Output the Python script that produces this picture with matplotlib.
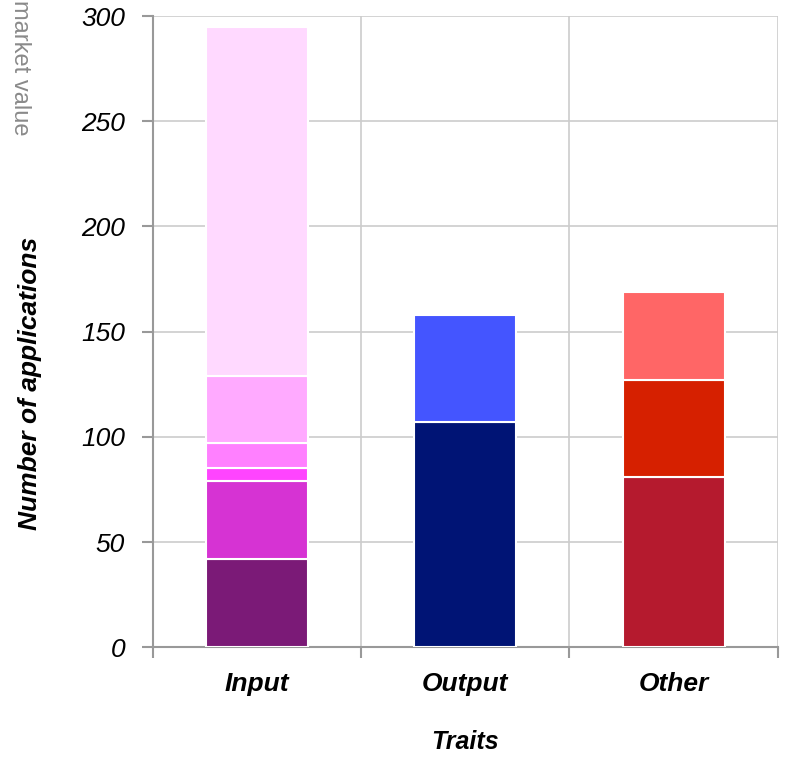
import matplotlib.pyplot as plt
import numpy as np

plt.rcParams['font.family'] = ['Liberation Sans', 'DejaVu Sans']

# Trait categories and their stacked segment sizes (bottom to top)
traits = ['Input', 'Output', 'Other']
input_parts = [42, 37, 6, 12, 32, 166]
output_parts = [107, 51]
other_parts = [81, 46, 42]

input_colors = ['#7b1a77', '#d633d3', '#ff44ff', '#ff80ff', '#ffaaff', '#ffd9ff']
output_colors = ['#001475', '#4455ff']
other_colors = ['#b51a2e', '#d62000', '#ff6666']

fig = plt.figure(figsize=(7.88, 7.65), dpi=100)
ax = fig.add_axes([0.194, 0.154, 0.793, 0.825])

x = np.arange(len(traits))
for xi, parts, colors in zip(x, [input_parts, output_parts, other_parts],
                             [input_colors, output_colors, other_colors]):
    bottom = 0
    for val, col in zip(parts, colors):
        ax.bar(xi, val, bottom=bottom, width=0.49, color=col,
               edgecolor='white', linewidth=1.5, zorder=3)
        bottom += val

ax.set_xlim(-0.5, 2.5)
ax.set_ylim(0, 300)
ax.set_yticks(np.arange(0, 301, 50))
ax.set_yticklabels([str(v) for v in range(0, 301, 50)],
                   fontsize=19, fontstyle='italic')

# gridlines between categories, labels in the middle
ax.set_xticks([-0.5, 0.5, 1.5, 2.5])
ax.set_xticklabels([])
ax.set_xticks(x, minor=True)
ax.set_xticklabels(traits, minor=True, fontsize=19, fontweight='bold',
                   fontstyle='italic')
ax.tick_params(axis='x', which='minor', length=0, pad=18)
ax.tick_params(axis='x', which='major', length=8, color='#999999', width=1.5)
ax.tick_params(axis='y', length=8, color='#999999', width=1.5, pad=12)

ax.grid(True, which='major', color='#cccccc', linewidth=1.2, zorder=0)
for side in ['top', 'right']:
    ax.spines[side].set_visible(False)
for side in ['left', 'bottom']:
    ax.spines[side].set_color('#999999')
    ax.spines[side].set_linewidth(1.5)

ax.set_xlabel('Traits', fontsize=18, fontweight='bold', fontstyle='italic',
              labelpad=24)
ax.set_ylabel('Number of applications', fontsize=19, fontweight='bold',
              fontstyle='italic')
ax.yaxis.set_label_coords(42 / 788, (765 - 383) / 765, transform=fig.transFigure)

fig.text(0.025, 1.0, 'market value', rotation=-90, color='#8a8a8a',
         fontsize=17, ha='center', va='top')

fig.savefig('out.png', dpi=100)
